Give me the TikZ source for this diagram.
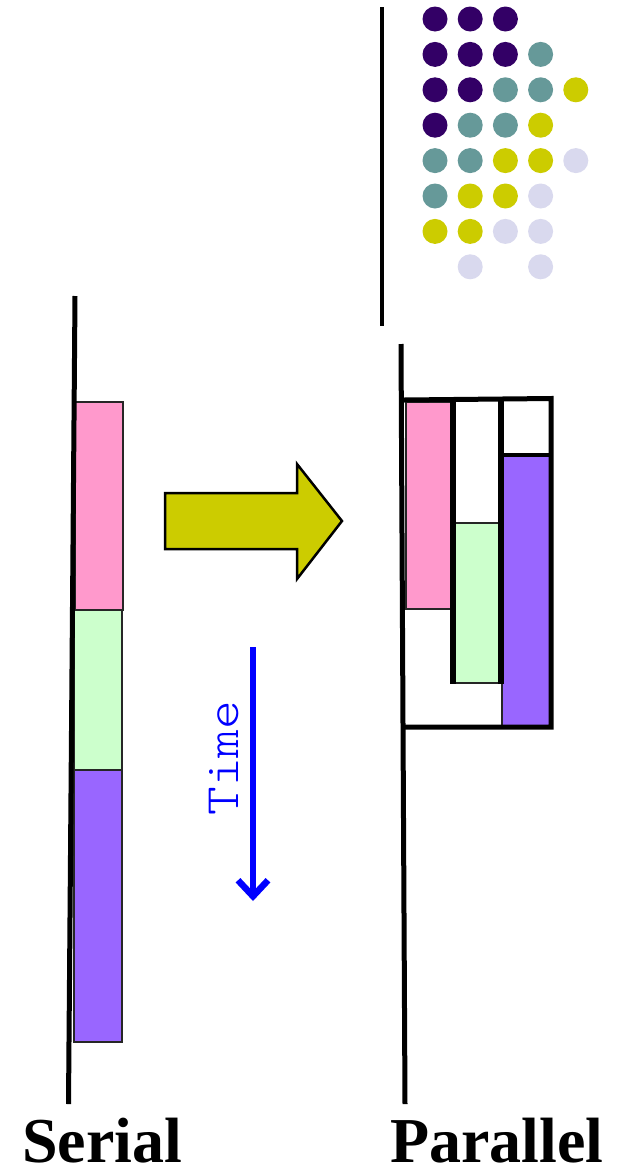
\documentclass[tikz,border=0pt]{standalone}
\usepackage{fontspec}
\setmainfont{Liberation Serif}
\newfontfamily\monofont{Latin Modern Mono Light}
\usetikzlibrary{arrows.meta}
\definecolor{dpurple}{HTML}{330066}
\definecolor{dteal}{HTML}{669999}
\definecolor{dyellow}{HTML}{CCCC00}
\definecolor{dlav}{HTML}{D9D9EE}
\definecolor{bpink}{HTML}{FF99CC}
\definecolor{bgreen}{HTML}{CCFFCC}
\definecolor{bpurple}{HTML}{9966FF}
\tikzset{
  axisline/.style={line width=5pt, black},
  bar/.style={draw={black!85}, line width=2pt},
  wall/.style={line width=6pt, black},
  dot/.style={circle, minimum size=25pt, inner sep=0pt},
  label/.style={font=\bfseries\fontsize{64}{64}\selectfont, anchor=base, inner sep=0pt},
}
\begin{document}
\begin{tikzpicture}[x=1pt,y=-1pt]
\useasboundingbox[fill=white] (0,0) rectangle (621,1170);

% divider line at top
\draw[line width=3.5pt] (382,7) coordinate (dtop) -- (382,326) coordinate (dbot);

% dots
\foreach \row/\cols in {
  1/{1/dpurple,2/dpurple,3/dpurple},
  2/{1/dpurple,2/dpurple,3/dpurple,4/dteal},
  3/{1/dpurple,2/dpurple,3/dteal,4/dteal,5/dyellow},
  4/{1/dpurple,2/dteal,3/dteal,4/dyellow},
  5/{1/dteal,2/dteal,3/dyellow,4/dyellow,5/dlav},
  6/{1/dteal,2/dyellow,3/dyellow,4/dlav},
  7/{1/dyellow,2/dyellow,3/dlav,4/dlav},
  8/{2/dlav,4/dlav}}{
  \foreach \c/\col in \cols {
    \node[dot, fill=\col] (d\row-\c) at ({435+35.2*(\c-1)},{19+35.4*(\row-1)}) {};
  }
}

% serial axis and bars
\node[bar, fill=bpink, anchor=north west, minimum width=48pt, minimum height=208pt, inner sep=0pt] (sp) at (73.5,401) {};
\node[bar, fill=bgreen, anchor=north west, minimum width=48pt, minimum height=160pt, inner sep=0pt] (sg) at (73,609) {};
\node[bar, fill=bpurple, anchor=north west, minimum width=48.5pt, minimum height=272pt, inner sep=0pt] (su) at (72.5,769) {};
\draw[axisline] (75,296) coordinate (sTop) -- (68.5,1104) coordinate (sBot);

% big yellow arrow
\draw[fill=dyellow, line width=2.5pt, line join=miter]
  (165,493) -- (297,493) -- (297,464) -- (342,521) -- (297,579) -- (297,549) -- (165,549) -- cycle;

% time arrow
\draw[blue, line width=5.5pt, -{Straight Barb[length=16pt,width=30pt,line width=6.5pt]}]
  (253,647) coordinate (tTop) -- (253,901) coordinate (tBot);
\node[blue, rotate=90, anchor=base, inner sep=0pt, font=\monofont\fontsize{48}{48}\selectfont] (time) at (238,758) {\scalebox{1.14}[1]{Time}};

% parallel
\node[bar, fill=bpink, anchor=north west, minimum width=48pt, minimum height=207pt, inner sep=0pt] (pp) at (405,401) {};
\node[bar, fill=bgreen, anchor=north west, minimum width=48pt, minimum height=160pt, inner sep=0pt] (pg) at (453,522) {};
\node[bar, fill=bpurple, anchor=north west, minimum width=50pt, minimum height=272pt, inner sep=0pt] (pu) at (501,455) {};
\draw[wall] (453,399) -- (453,684);
\draw[wall] (501,399) -- (501,684);
\draw[line width=3.5pt] (501,455) -- (551,455);
\draw[line width=5pt, line cap=rect] (404,400) -- (551,398.5) -- (551,727) -- (404,727);
\draw[axisline] (401,344) coordinate (pTop) -- (405,1104) coordinate (pBot);

% labels
\node[label] (serial) at (102,1162) {Serial};
\node[label] (parallel) at (497,1162) {Parallel};
\end{tikzpicture}
\end{document}
